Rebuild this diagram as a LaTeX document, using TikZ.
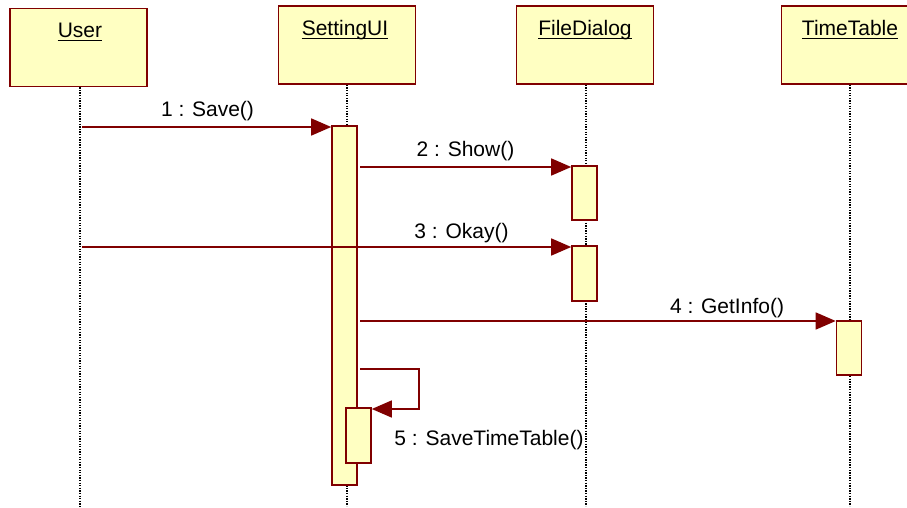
\documentclass[tikz,border=0pt]{standalone}
\usepackage{fontspec}
\setmainfont{Liberation Sans}
\usetikzlibrary{arrows.meta}
\definecolor{umlred}{RGB}{128,0,0}
\definecolor{umlfill}{RGB}{255,255,194}
\begin{document}
\begin{tikzpicture}[x=1pt,y=-1pt,
  headbox/.style={draw=umlred,fill=umlfill,line width=1.6pt,minimum width=137pt,minimum height=78pt,inner sep=0pt},
  actbox/.style={draw=umlred,fill=umlfill,line width=1.6pt,minimum width=25pt,inner sep=0pt},
  headtxt/.style={font=\fontsize{21}{25}\selectfont,inner sep=0pt,anchor=base},
  msgtxt/.style={font=\fontsize{21}{25}\selectfont,inner sep=0pt,anchor=base},
  lifeline/.style={black,line width=1.3pt,dash pattern=on 1.3pt off 1.3pt},
  msg/.style={umlred,line width=1.5pt,-{Triangle[length=20pt,width=17pt]}},
  uline/.style={black,line width=1pt}]
\useasboundingbox (0,0) rectangle (907,508);
\fill[white] (0,0) rectangle (907,508);
% header boxes
\node[headbox] (userbox) at (78.5,47.5) {};
\node[headbox] (setbox) at (347,45) {};
\node[headbox] (fdbox) at (585,45) {};
\node[headbox] (ttbox) at (850,45) {};
% lifeline ends
\coordinate (userend) at (80,506);
\coordinate (setend) at (347,506);
\coordinate (fdend) at (586,506);
\coordinate (ttend) at (850,506);
\draw[lifeline] (userbox.south -| userend) -- (userend);
\draw[lifeline] (setbox.south -| setend) -- (setend);
\draw[lifeline] (fdbox.south -| fdend) -- (fdend);
\draw[lifeline] (ttbox.south -| ttend) -- (ttend);
% header texts
\node[headtxt] (usertxt) at (80,38) {User};
\node[headtxt] (settxt) at (345,36) {SettingUI};
\node[headtxt] (fdtxt) at (585,36) {FileDialog};
\node[headtxt] (tttxt) at (850,36) {TimeTable};
\foreach \t in {usertxt,settxt,fdtxt,tttxt}{
  \draw[uline] ([yshift=-3pt]\t.base west) -- ([yshift=-3pt]\t.base east);
}
% activations
\node[actbox,minimum height=359pt] (setact) at (344.5,305.5) {};
\node[actbox,minimum height=55pt] (setact2) at (358.5,435.5) {};
\node[actbox,minimum height=54pt] (fdact1) at (584.5,193) {};
\node[actbox,minimum height=55pt] (fdact2) at (584.5,273.5) {};
\node[actbox,minimum height=54pt] (ttact) at (849,348) {};
% messages
\coordinate (m1s) at (82,127);
\coordinate (m2s) at (360,167);
\coordinate (m3s) at (82,247);
\coordinate (m4s) at (360,321);
\coordinate (m5s) at (360,369);
\coordinate (m5a) at (419,369);
\coordinate (m5b) at (419,409);
\draw[msg] (m1s) -- (m1s -| setact.west);
\draw[msg] (m2s) -- (m2s -| fdact1.west);
\draw[msg] (m3s) -- (m3s -| fdact2.west);
\draw[msg] (m4s) -- (m4s -| ttact.west);
\draw[msg] (m5s) -- (m5a) -- (m5b) -- (m5b -| setact2.east);
% labels
\node[msgtxt] (l1) at (207.5,117) {1 : Save()};
\node[msgtxt] (l2) at (465.5,157) {2 : Show()};
\node[msgtxt] (l3) at (461.5,238) {3 : Okay()};
\node[msgtxt] (l4) at (727,313) {4 : GetInfo()};
\node[msgtxt] (l5) at (489,445) {5 : SaveTimeTable()};
\end{tikzpicture}
\end{document}
